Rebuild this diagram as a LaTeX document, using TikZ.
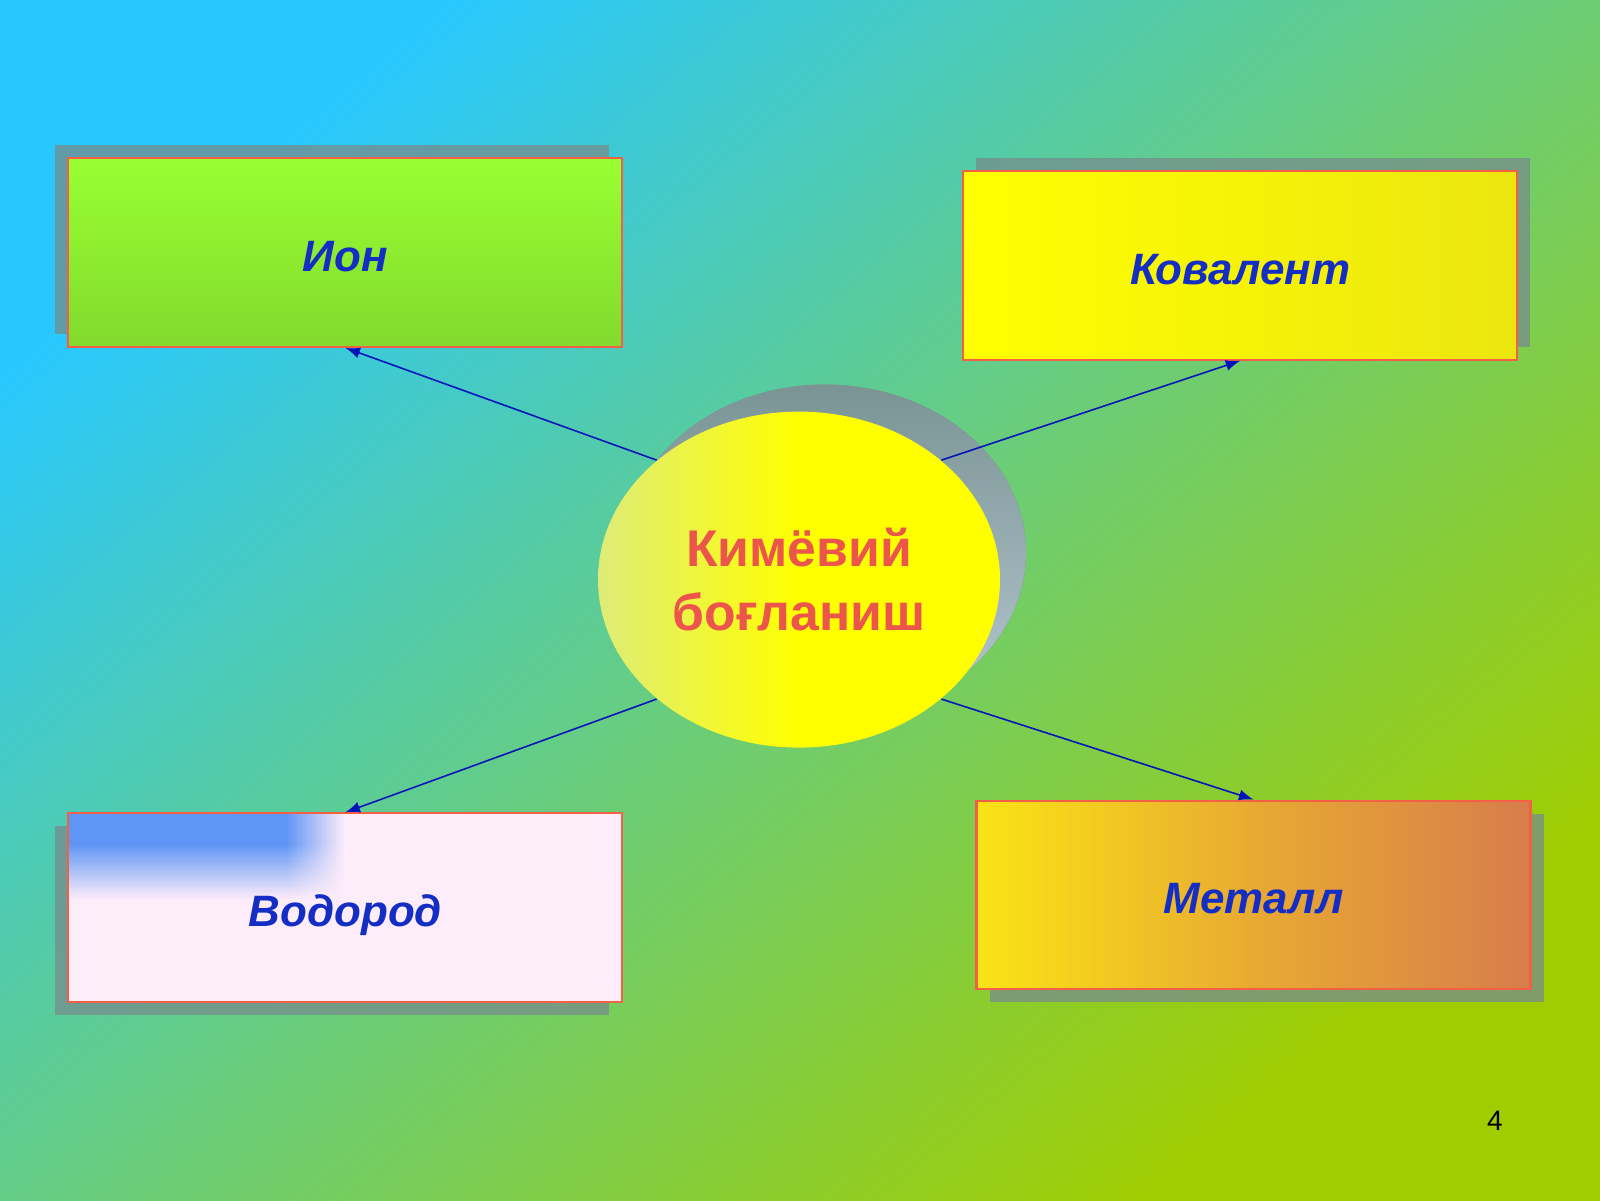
\documentclass[tikz,border=0pt]{standalone}
\usepackage{fontspec}
\setmainfont{Liberation Sans}
\usetikzlibrary{shapes.geometric,shadows}

\definecolor{bgcyan}{RGB}{40,200,255}
\definecolor{bggreen}{RGB}{105,205,125}
\definecolor{bglime}{RGB}{160,205,0}
\definecolor{labelblue}{RGB}{20,45,195}
\definecolor{titlered}{RGB}{235,85,75}
\definecolor{edgered}{RGB}{245,95,70}
\definecolor{linkblue}{RGB}{0,20,185}
\definecolor{shadowgray}{RGB}{118,140,140}
\definecolor{iontop}{RGB}{152,255,50}
\definecolor{ionbottom}{RGB}{130,218,45}
\definecolor{kovleft}{RGB}{255,255,0}
\definecolor{kovright}{RGB}{236,230,15}
\definecolor{metleft}{RGB}{250,228,20}
\definecolor{metmid}{RGB}{232,170,50}
\definecolor{metright}{RGB}{215,125,75}
\definecolor{vodpink}{RGB}{253,236,250}
\definecolor{blobblue}{RGB}{95,150,245}
\definecolor{bondpale}{RGB}{222,236,120}
\definecolor{bondshadetop}{RGB}{122,148,148}
\definecolor{bondshadebottom}{RGB}{182,200,210}

\begin{document}
\begin{tikzpicture}[
    box/.style={rectangle, draw=edgered, line width=0.6pt, inner sep=0pt,
        minimum width=5.54cm, minimum height=1.887cm, text=labelblue,
        text height=10.7pt, text depth=0pt,
        font=\fontsize{12.5}{15}\selectfont\bfseries\itshape},
    link/.style={-latex, draw=linkblue, line width=0.45pt}
]
    \useasboundingbox (0,0) rectangle (16,12);
    \shade[top color=bgcyan, bottom color=bglime, middle color=bggreen, shading angle=40] (0,0) rectangle (16,12);

    % the four kinds of bond
    \node[box, top color=iontop, bottom color=ionbottom,
        drop shadow={shadow xshift=-0.13cm, shadow yshift=0.13cm, fill=shadowgray, opacity=0.75}]
        (ion) at (3.454,9.475) {Ион};
    \node[box, left color=kovleft, right color=kovright,
        drop shadow={shadow xshift=0.13cm, shadow yshift=0.13cm, fill=shadowgray, opacity=0.75}]
        (kovalent) at (12.403,9.347) {Ковалент};
    \node[box, fill=vodpink,
        drop shadow={shadow xshift=-0.13cm, shadow yshift=-0.13cm, fill=shadowgray, opacity=0.75},
        path picture={
            % blue patch in the top left corner, faded by hand
            \foreach \j in {0,...,33}
                \foreach \i in {0,...,22} {
                    \pgfmathsetmacro\w{100*min(1,(34-\j)/22)*(1-\i/23)}
                    \pgfmathsetmacro\xa{\i==0 ? 0 : 2.2+(\i-1)*0.025}
                    \pgfmathsetmacro\xb{2.2+\i*0.025+0.004}
                    \fill[blobblue!\w!vodpink]
                        ([shift={(\xa,-0.025*\j)}]path picture bounding box.north west)
                        rectangle ([shift={(\xb,-0.025*\j-0.029)}]path picture bounding box.north west);
                }
        }]
        (vodorod) at (3.454,2.923) {Водород};
    \node[box, left color=metleft, right color=metright, middle color=metmid,
        drop shadow={shadow xshift=0.13cm, shadow yshift=-0.13cm, fill=shadowgray, opacity=0.75}]
        (metall) at (12.535,3.051) {Металл};

    % centre
    \node[ellipse, minimum width=4.02cm, minimum height=3.36cm, inner sep=0pt,
        left color=bondpale, right color=yellow, middle color=yellow,
        drop shadow={shadow xshift=0.26cm, shadow yshift=0.27cm, top color=bondshadetop,
            bottom color=bondshadebottom, opacity=1},
        align=center, text=titlered, font=\fontsize{14.7}{18}\selectfont\bfseries]
        (bond) at (7.99,6.204) {Кимёвий\\боғланиш};

    \foreach \a/\b/\t in {140/ion/south, 40/kovalent/south, 220/vodorod/north, 320/metall/north}
        \draw[link] (bond.\a) -- (\b.\t);

    \node[font=\fontsize{8}{10}\selectfont] (page) at (14.95,0.796) {4};
\end{tikzpicture}
\end{document}
